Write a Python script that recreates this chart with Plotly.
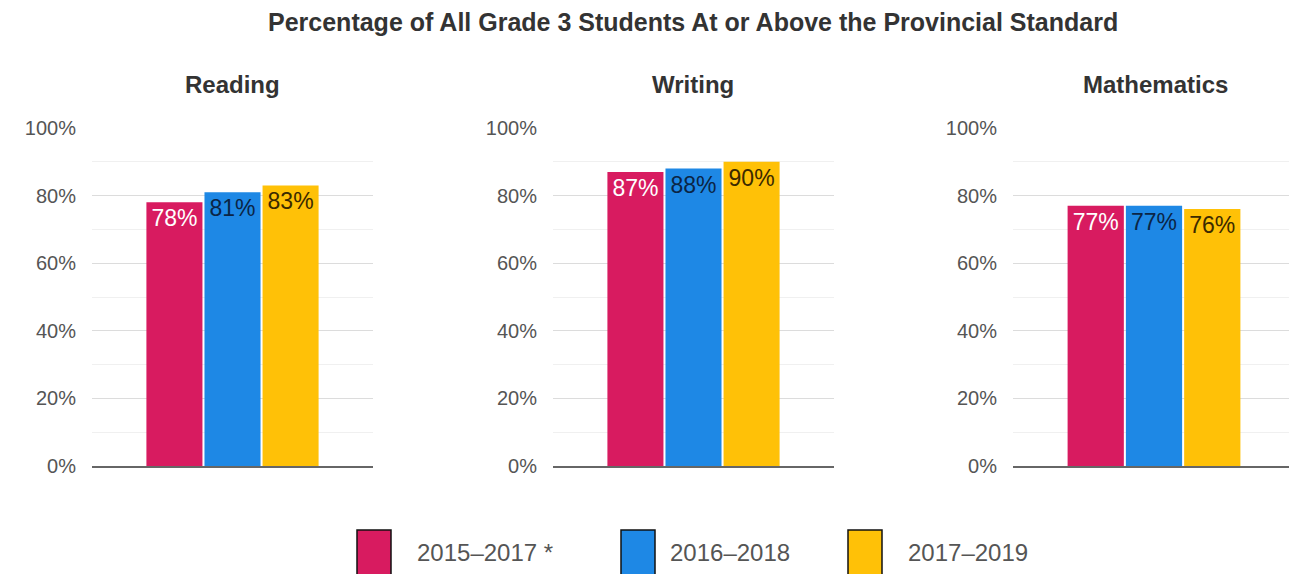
import plotly.graph_objects as go

W, H = 1289, 574

subjects = ["Reading", "Writing", "Mathematics"]
periods = ["2015–2017 *", "2016–2018", "2017–2019"]
values = {
    "2015–2017 *": [78, 87, 77],
    "2016–2018": [81, 88, 77],
    "2017–2019": [83, 90, 76],
}
bar_colors = ["#D81B60", "#1E88E5", "#FFC107"]
label_colors = ["#ffffff", "#0b2545", "#3b2a00"]
y_ticks = [0, 20, 40, 60, 80, 100]

FONT = "Liberation Sans, Arial, sans-serif"

def px(x):
    return x / W

def py(y):
    return (H - y) / H

x_domains = [[px(92), px(373)], [px(553), px(834)], [px(1013), 1.0]]
x_ranges = [[-0.5, 0.5], [-0.5, 0.5], [-0.5, -0.5 + 276 / 282]]
y_domain = [py(466), py(128)]

fig = go.Figure()

for si, subj in enumerate(subjects):
    xa = "x" if si == 0 else f"x{si+1}"
    ya = "y" if si == 0 else f"y{si+1}"
    for pi, per in enumerate(periods):
        v = values[per][si]
        fig.add_trace(go.Bar(
            x=[subj], y=[v], name=per, xaxis=xa, yaxis=ya,
            marker=dict(color=bar_colors[pi], line=dict(width=0)),
            text=[f"{v}%"], textposition="inside", insidetextanchor="end",
            textfont=dict(size=23, color=label_colors[pi], family=FONT),
            textangle=0, constraintext="none",
            showlegend=False, hoverinfo="skip",
        ))

layout = dict(
    width=W, height=H, autosize=False,
    margin=dict(l=0, r=0, t=0, b=0, pad=0, autoexpand=False),
    paper_bgcolor="white", plot_bgcolor="white",
    barmode="group", bargap=0.38, bargroupgap=0.035,
    font=dict(family=FONT, color="#444"),
    showlegend=False,
    uniformtext=dict(mode=False),
)
for si in range(3):
    xk = "xaxis" if si == 0 else f"xaxis{si+1}"
    yk = "yaxis" if si == 0 else f"yaxis{si+1}"
    anchor_y = "y" if si == 0 else f"y{si+1}"
    anchor_x = "x" if si == 0 else f"x{si+1}"
    layout[xk] = dict(
        domain=x_domains[si], range=x_ranges[si], anchor=anchor_y,
        showticklabels=False, showgrid=False, zeroline=False,
        showline=True, linecolor="#666", linewidth=1.5, ticks="",
        fixedrange=True, automargin=False,
    )
    layout[yk] = dict(
        domain=y_domain, range=[0, 100], anchor=anchor_x,
        tickvals=y_ticks, ticktext=[f"{t}%" for t in y_ticks],
        tickfont=dict(size=20, color="#555", family=FONT),
        showgrid=True, gridcolor="#dcdcdc", gridwidth=1,
        minor=dict(dtick=10, showgrid=True, gridcolor="#f0f0f0", gridwidth=1),
        zeroline=False, showline=False, ticks="",
        ticklabelstandoff=15, fixedrange=True, automargin=False,
    )
fig.update_layout(**layout)

annotations = [dict(
    text="<b>Percentage of All Grade 3 Students At or Above the Provincial Standard</b>",
    x=px(693), y=py(22), xref="paper", yref="paper", showarrow=False,
    font=dict(size=25, color="#333", family=FONT), xanchor="center", yanchor="middle",
)]
subj_centers = [232, 693, 1155]
for subj, cx in zip(subjects, subj_centers):
    annotations.append(dict(
        text=f"<b>{subj}</b>", x=px(cx), y=py(84), xref="paper", yref="paper",
        showarrow=False, font=dict(size=24, color="#333", family=FONT),
        xanchor="center", yanchor="middle",
    ))

shapes = []
legend_sq_x = [357, 621, 848]
legend_txt_x = [415, 668, 906]
for pi, per in enumerate(periods):
    shapes.append(dict(
        type="rect", xref="paper", yref="paper",
        x0=px(legend_sq_x[pi]), x1=px(legend_sq_x[pi] + 34),
        y0=py(530), y1=py(590),
        fillcolor=bar_colors[pi], line=dict(color="#111", width=1.5),
    ))
    annotations.append(dict(
        text=per, x=px(legend_txt_x[pi]), y=py(552), xref="paper", yref="paper",
        showarrow=False, font=dict(size=24, color="#555", family=FONT),
        xanchor="left", yanchor="middle",
    ))

fig.update_layout(annotations=annotations, shapes=shapes)
fig.write_html(
    "out.html",
    config={"responsive": False, "displayModeBar": False},
    post_script="document.body.style.margin='0';document.body.style.overflow='hidden';",
)
